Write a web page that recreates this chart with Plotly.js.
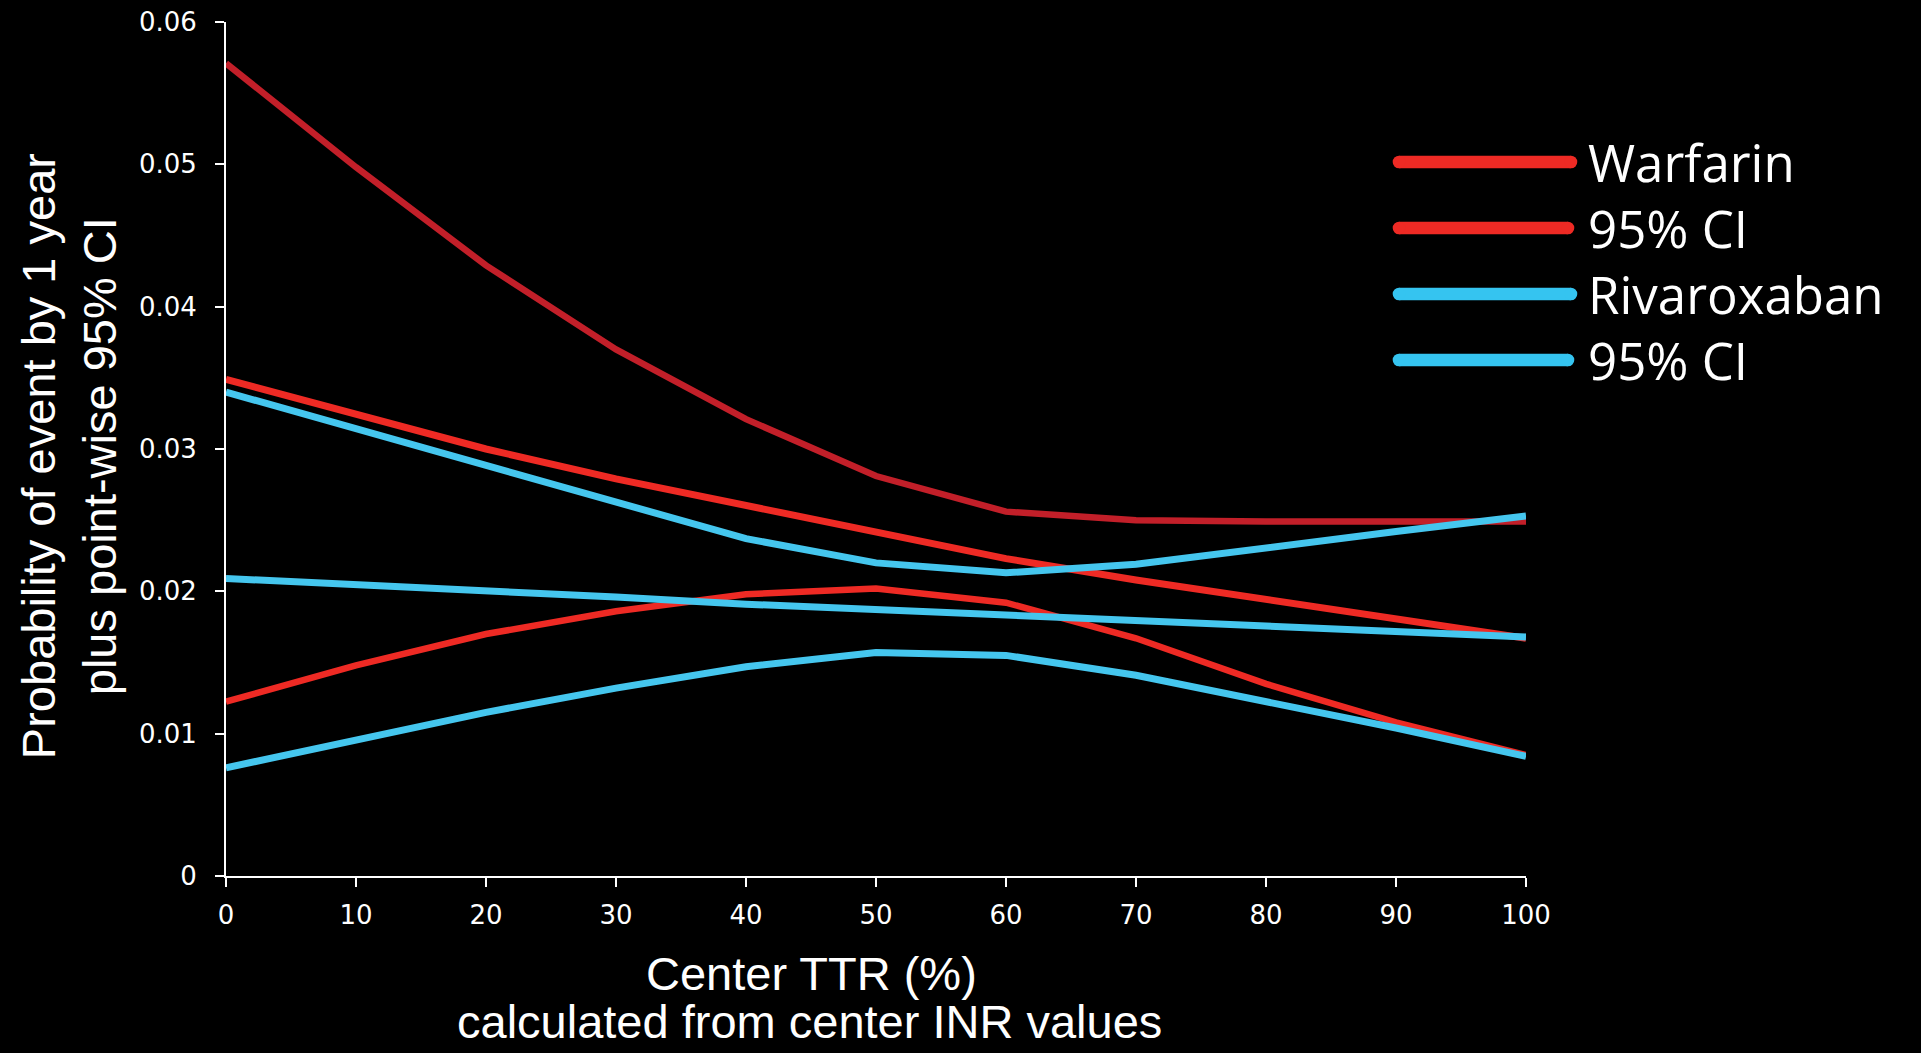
<!DOCTYPE html>
<html>
<head>
<meta charset="utf-8">
<script src="https://cdn.plot.ly/plotly-3.0.1.min.js"></script>
<style>
  html, body { margin: 0; padding: 0; background: #000; }
  #chart { width: 1921px; height: 1053px; }
</style>
</head>
<body>
<div id="chart"></div>
<script>
// ---- data ----
const ttr = [0, 10, 20, 30, 40, 50, 60, 70, 80, 90, 100];

const warfarin      = [0.0349, 0.0324, 0.0300, 0.0279, 0.0260, 0.0241, 0.0223, 0.0208, 0.0194, 0.0181, 0.0167];
const warfarinUpper = [0.0571, 0.0498, 0.0429, 0.0370, 0.0321, 0.0281, 0.0256, 0.0250, 0.0249, 0.0249, 0.0249];
const warfarinLower = [0.01225, 0.0148, 0.0170, 0.0186, 0.0198, 0.0202, 0.0192, 0.0167, 0.0135, 0.0108, 0.0085];

const rivaroxaban      = [0.0209, 0.0205, 0.0200, 0.0196, 0.0191, 0.0187, 0.0183, 0.0180, 0.0176, 0.0172, 0.0168];
const rivaroxabanUpper = [0.0340, 0.0314, 0.0288, 0.0262, 0.0237, 0.0220, 0.0213, 0.0219, 0.0231, 0.0242, 0.0253];
const rivaroxabanLower = [0.0076, 0.0096, 0.0115, 0.0132, 0.0147, 0.0157, 0.0155, 0.0141, 0.0123, 0.0104, 0.0084];

const legendLabels = ["Warfarin", "95% CI", "Rivaroxaban", "95% CI"];

const xTickVals = [0, 10, 20, 30, 40, 50, 60, 70, 80, 90, 100];
const yTickVals = [0, 0.01, 0.02, 0.03, 0.04, 0.05, 0.06];
const yTickText = ["0", "0.01", "0.02", "0.03", "0.04", "0.05", "0.06"];

const xTitle1 = "Center TTR (%)";
const xTitle2 = "calculated from center INR values";
const yTitle1 = "Probability of event by 1 year";
const yTitle2 = "plus point-wise 95% CI";

// ---- styles ----
const RED = "#ee2a24";
const DARKRED = "#c21f29";
const BLUE = "#45c6ee";
const LEGBLUE = "#35c4f0";

function line(y, color, width, name) {
  return { x: ttr, y: y, type: "scatter", mode: "lines", name: name,
           line: { color: color, width: width }, showlegend: false, hoverinfo: "x+y" };
}

const traces = [
  line(warfarinLower, RED, 6.5, "Warfarin 95% CI (lower)"),
  line(warfarinUpper, DARKRED, 6.5, "Warfarin 95% CI (upper)"),
  line(warfarin, RED, 7, "Warfarin"),
  line(rivaroxabanUpper, BLUE, 7, "Rivaroxaban 95% CI (upper)"),
  line(rivaroxabanLower, BLUE, 7, "Rivaroxaban 95% CI (lower)"),
  line(rivaroxaban, BLUE, 7, "Rivaroxaban")
];

// custom legend (paper coordinates)
const legColors = [RED, RED, LEGBLUE, LEGBLUE];
const legY = [0.8361, 0.7588, 0.6815, 0.6042];
const legX1 = [1.0346, 1.0323, 1.0346, 1.0323];
const legX0 = 0.9023;
const shapes = [];
const annotations = [];
const capR = 6.3;
legendLabels.forEach((lab, i) => {
  shapes.push({ type: "line", xref: "paper", yref: "paper", x0: legX0, x1: legX1[i], y0: legY[i], y1: legY[i],
                line: { color: legColors[i], width: 12.6 } });
  [legX0, legX1[i]].forEach(px => {
    shapes.push({ type: "circle", xref: "paper", yref: "paper", xsizemode: "pixel", ysizemode: "pixel",
                  xanchor: px, yanchor: legY[i], x0: -capR, x1: capR, y0: -capR, y1: capR,
                  fillcolor: legColors[i], line: { width: 0 } });
  });
  annotations.push({ xref: "paper", yref: "paper", x: 1.0465, y: legY[i], xanchor: "left", yanchor: "middle",
                     text: lab, showarrow: false,
                     font: { family: "Open Sans", size: 51, color: "#ffffff" } });
});

const titleFont = { family: "Liberation Sans, Arial", size: 47, color: "#ffffff" };
annotations.push({ xref: "paper", yref: "paper", x: 0.45, y: -0.1136, xanchor: "center", yanchor: "middle",
                   text: xTitle1, showarrow: false, font: titleFont });
annotations.push({ xref: "paper", yref: "paper", x: 0.4492, y: -0.1698, xanchor: "center", yanchor: "middle",
                   text: xTitle2, showarrow: false, font: titleFont });
annotations.push({ xref: "paper", yref: "paper", x: -0.1445, y: 0.4918, xanchor: "center", yanchor: "middle",
                   text: yTitle1, textangle: -90, showarrow: false, font: titleFont });
annotations.push({ xref: "paper", yref: "paper", x: -0.0975, y: 0.4918, xanchor: "center", yanchor: "middle",
                   text: yTitle2, textangle: -90, showarrow: false, font: titleFont });

const tickFont = { family: "DejaVu Sans", size: 26, color: "#ffffff" };

const layout = {
  width: 1921, height: 1053,
  paper_bgcolor: "#000000", plot_bgcolor: "#000000",
  margin: { l: 226, r: 395, t: 22, b: 177 },
  showlegend: false,
  xaxis: {
    range: [0, 100], tickvals: xTickVals, ticktext: xTickVals.map(String),
    showline: true, linecolor: "#ffffff", linewidth: 2,
    ticks: "outside", ticklen: 9, tickwidth: 2, tickcolor: "#ffffff",
    showgrid: false, zeroline: false, tickfont: tickFont, ticklabelstandoff: 6
  },
  yaxis: {
    range: [0, 0.06], tickvals: yTickVals, ticktext: yTickText,
    showline: true, linecolor: "#ffffff", linewidth: 2,
    ticks: "outside", ticklen: 9, tickwidth: 2, tickcolor: "#ffffff",
    showgrid: false, zeroline: false, tickfont: tickFont, ticklabelstandoff: 13
  },
  shapes: shapes,
  annotations: annotations
};

Plotly.newPlot("chart", traces, layout, { displayModeBar: false, staticPlot: true });
</script>
</body>
</html>
